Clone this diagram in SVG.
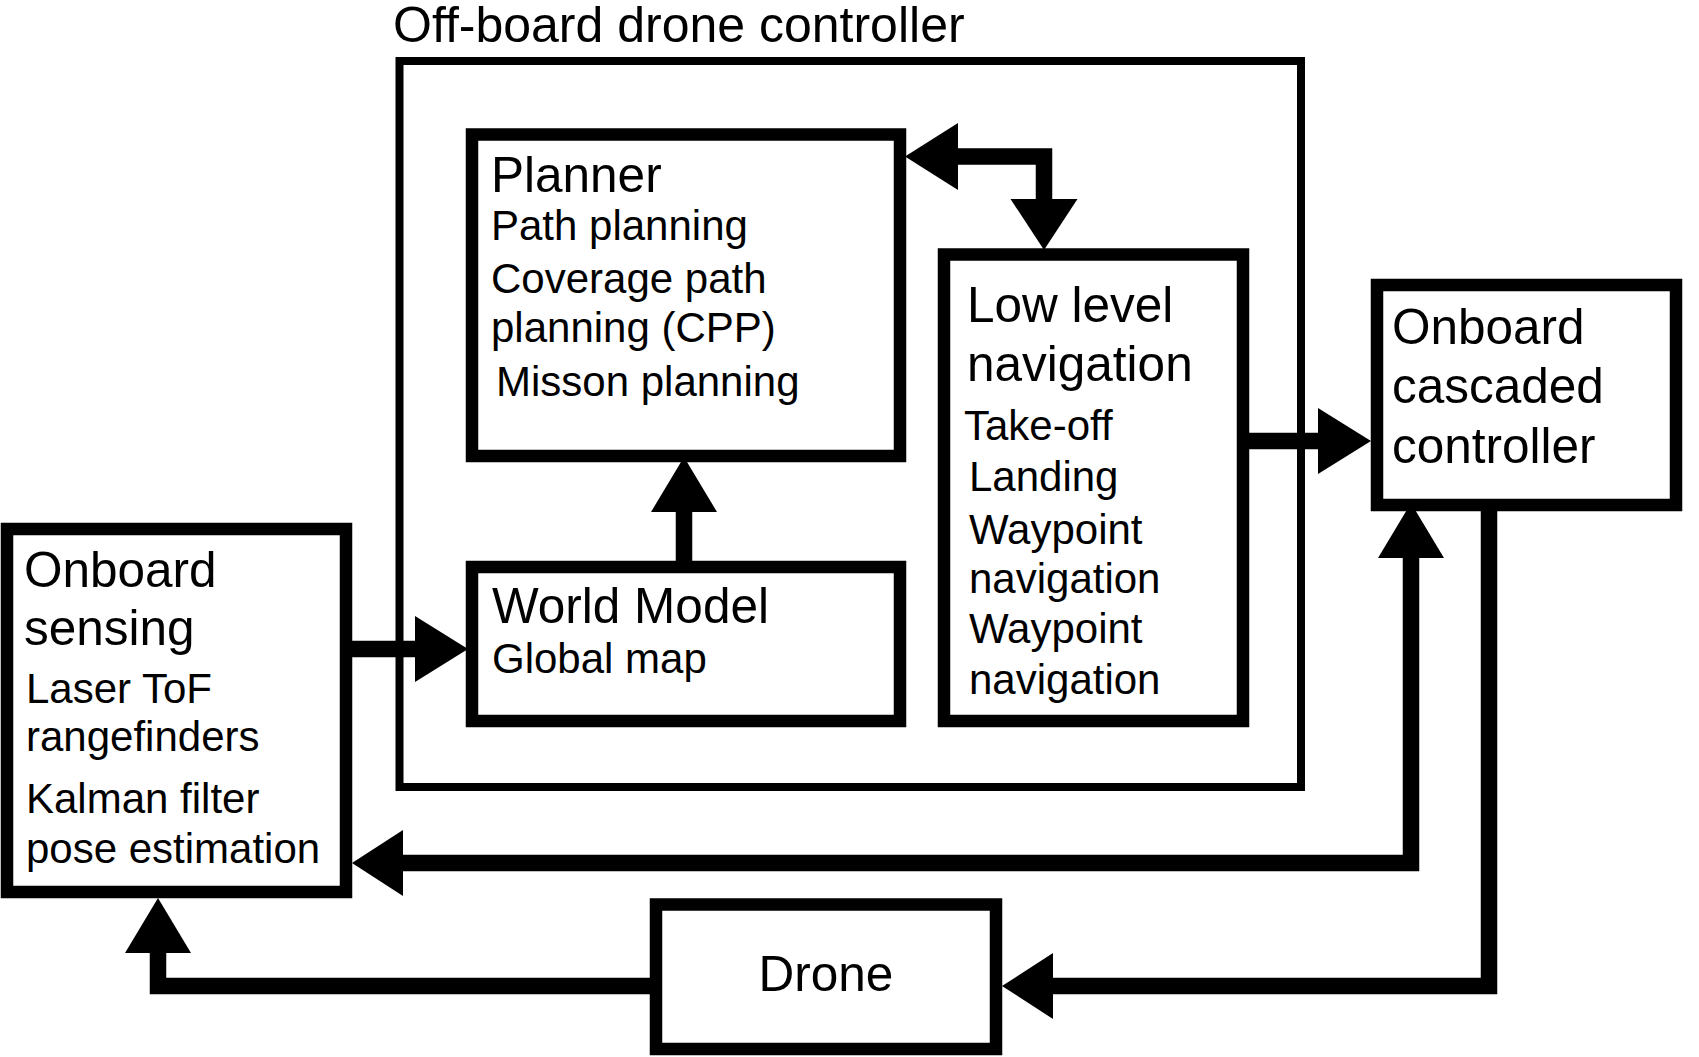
<svg xmlns="http://www.w3.org/2000/svg" width="1699" height="1057" viewBox="0 0 1699 1057">
<style>
  .box { fill: #fff; stroke: #000; stroke-width: 12.5; }
  .frame { fill: none; stroke: #000; stroke-width: 8; }
  .h { font-family: "Liberation Sans", Arial, Helvetica, sans-serif; font-size: 49.5px; fill: #000; }
  .b { font-family: "Liberation Sans", Arial, Helvetica, sans-serif; font-size: 42px; fill: #000; }
  .shaft { fill: none; stroke: #000; stroke-width: 16.5; stroke-linejoin: miter; stroke-linecap: butt; }
  .head { fill: #000; stroke: none; }
</style>
<rect width="1699" height="1057" fill="#fff"/>

<g id="offboard-controller">
  <rect class="frame" x="399.5" y="61" width="901.5" height="726"/>
  <text class="h" x="393" y="42" style="font-size:50px">Off-board drone controller</text>
</g>

<g id="planner">
  <rect class="box" x="472" y="134.5" width="428" height="321.5"/>
  <text class="h" x="491" y="192">Planner</text>
  <text class="b" x="491" y="240">Path planning</text>
  <text class="b" x="491" y="293">Coverage path</text>
  <text class="b" x="491" y="342">planning (CPP)</text>
  <text class="b" x="496" y="396">Misson planning</text>
</g>

<g id="world-model">
  <rect class="box" x="472" y="567" width="428" height="154"/>
  <text class="h" x="492" y="623">World Model</text>
  <text class="b" x="492" y="673">Global map</text>
</g>

<g id="low-level-navigation">
  <rect class="box" x="944" y="254.5" width="299" height="466.5"/>
  <text class="h" x="967" y="322">Low level</text>
  <text class="h" x="967" y="381">navigation</text>
  <text class="b" x="964" y="440">Take-off</text>
  <text class="b" x="969" y="491">Landing</text>
  <text class="b" x="969" y="544">Waypoint</text>
  <text class="b" x="969" y="593">navigation</text>
  <text class="b" x="969" y="643">Waypoint</text>
  <text class="b" x="969" y="694">navigation</text>
</g>

<g id="onboard-cascaded-controller">
  <rect class="box" x="1377" y="285" width="299" height="220"/>
  <text class="h" x="1392" y="344">Onboard</text>
  <text class="h" x="1392" y="403">cascaded</text>
  <text class="h" x="1392" y="463">controller</text>
</g>

<g id="onboard-sensing">
  <rect class="box" x="7" y="529" width="339" height="363"/>
  <text class="h" x="24" y="587">Onboard</text>
  <text class="h" x="24" y="645">sensing</text>
  <text class="b" x="26" y="703">Laser ToF</text>
  <text class="b" x="26" y="751">rangefinders</text>
  <text class="b" x="26" y="813">Kalman filter</text>
  <text class="b" x="26" y="863">pose estimation</text>
</g>

<g id="drone">
  <rect class="box" x="656" y="904.5" width="340" height="144.5"/>
  <text class="h" x="826" y="991" text-anchor="middle">Drone</text>
</g>

<g id="connectors">
  <!-- sensing -> world model -->
  <line class="shaft" x1="352" y1="649" x2="416" y2="649"/>
  <polygon class="head" points="415,616 468,649 415,682"/>
  <!-- world model -> planner -->
  <line class="shaft" x1="684" y1="567" x2="684" y2="511"/>
  <polygon class="head" points="651,512 684,457 717,512"/>
  <!-- planner <-> low level -->
  <polyline class="shaft" points="957,156.5 1044,156.5 1044,200"/>
  <polygon class="head" points="958,123 905,156.5 958,190"/>
  <polygon class="head" points="1010.5,199 1077.5,199 1044,250"/>
  <!-- low level -> controller -->
  <line class="shaft" x1="1249" y1="441" x2="1319" y2="441"/>
  <polygon class="head" points="1318,408 1371,441 1318,474"/>
  <!-- loop -> controller and -> sensing -->
  <polyline class="shaft" points="1411,557 1411,863 402,863"/>
  <polygon class="head" points="1378,558 1444,558 1411,503"/>
  <polygon class="head" points="403,830 352,863 403,896"/>
  <!-- controller -> drone -->
  <polyline class="shaft" points="1489,511 1489,986 1052,986"/>
  <polygon class="head" points="1053,953 1002,986 1053,1019"/>
  <!-- drone -> sensing -->
  <polyline class="shaft" points="650,986 158,986 158,952"/>
  <polygon class="head" points="125,953 191,953 158,898"/>
</g>
</svg>
